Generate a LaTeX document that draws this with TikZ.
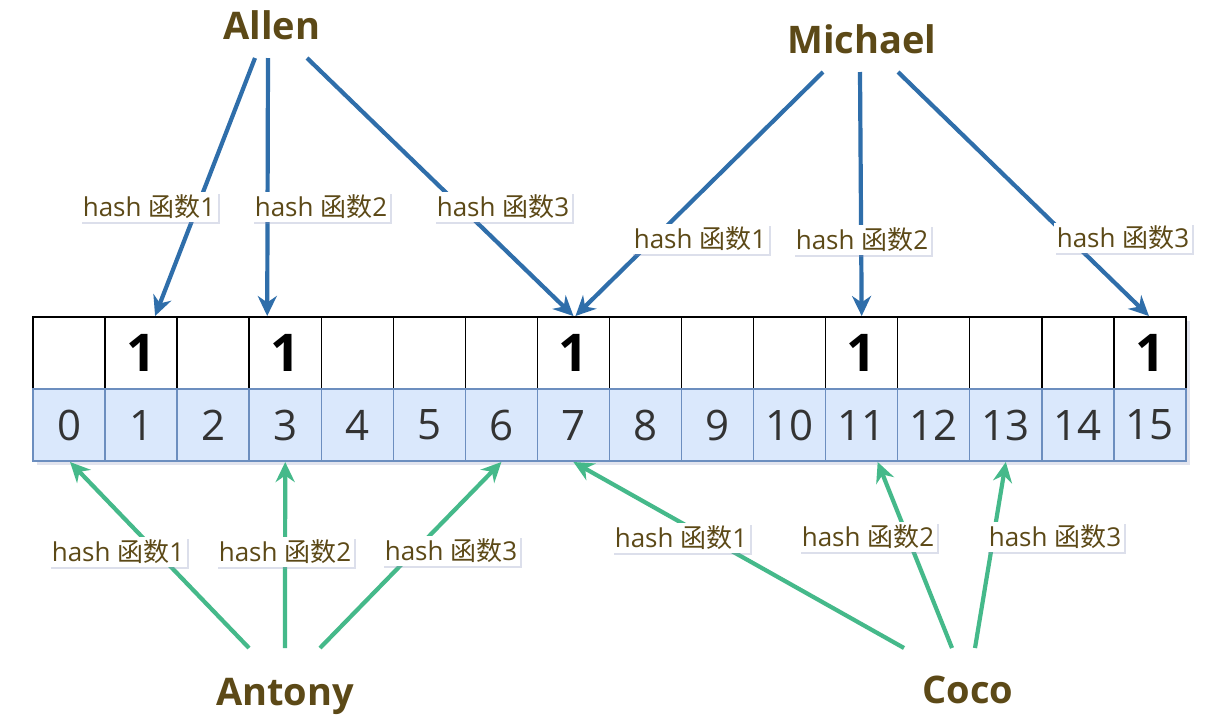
\documentclass[tikz,border=0pt]{standalone}
\usepackage{fontspec}
\setmainfont{Open Sans}
\newfontfamily\cjk{Noto Sans CJK SC}
\usetikzlibrary{arrows.meta,shadows}
\definecolor{namebrown}{HTML}{5C4917}
\definecolor{arrowblue}{HTML}{2F6EAA}
\definecolor{arrowgreen}{HTML}{45B98A}
\definecolor{cellfill}{HTML}{DAE8FC}
\definecolor{celldraw}{HTML}{6C8EBF}
\definecolor{numgray}{HTML}{333333}
\definecolor{shadowc}{HTML}{8E96BE}
\tikzset{
  topcell/.style={draw=black, line width=1.4pt, fill=white, minimum width=72.06pt, minimum height=72pt, inner sep=0pt, outer sep=0pt, font=\fontsize{52}{52}\selectfont\bfseries},
  botcell/.style={draw=celldraw, line width=1.4pt, fill=cellfill, minimum width=72.06pt, minimum height=72pt, inner sep=0pt, outer sep=0pt, text=numgray, font=\fontsize{42}{42}\selectfont},
  person/.style={text=namebrown, font=\fontsize{38}{38}\selectfont\bfseries, anchor=base, inner sep=0pt},
  hashlabel/.style={fill=white, text=namebrown, inner sep=2.5pt, font=\fontsize{26}{26}\selectfont, drop shadow={shadow xshift=2pt, shadow yshift=-2pt, opacity=.3, fill=shadowc}},
  bluearrow/.style={draw=arrowblue, line width=4.2pt, -{Stealth[length=20pt,width=19pt]}},
  greenarrow/.style={draw=arrowgreen, line width=4.2pt, -{Stealth[length=20pt,width=19pt]}}
}
\begin{document}
\begin{tikzpicture}[x=1pt,y=-1pt]
\useasboundingbox (0,0) rectangle (1215,721);
\fill[white] (0,0) rectangle (1215,721);
% grid shadow
\fill[shadowc, opacity=.25] (37,321) rectangle (1190,465);
% cells
\foreach \i in {0,2,4,5,6,8,9,10,12,13,14}
  \node[topcell] (t\i) at ({33+72.06*(\i+0.5)},353) {};
\foreach \i in {1,3,7,11,15}
  \node[topcell] (t\i) at ({33+72.06*(\i+0.5)},353) {1};
\foreach \i in {0,...,15}
  \node[botcell] (b\i) at ({33+72.06*(\i+0.5)},425) {\i};
% names
\node[person] (allen) at (272,39) {Allen};
\node[person] (michael) at (862,53) {Michael};
\node[person] (antony) at (285,705) {Antony};
\node[person] (coco) at (968,703) {Coco};
% free ends near names
\coordinate (al1) at (255,58);
\coordinate (al2) at (268,58);
\coordinate (al3) at (307,58);
\coordinate (mi1) at (823,72);
\coordinate (mi2) at (860,72);
\coordinate (mi3) at (898,72);
\coordinate (an1) at (249,648);
\coordinate (an2) at (285,648);
\coordinate (an3) at (320,648);
\coordinate (co1) at (904,648);
\coordinate (co2) at (952,648);
\coordinate (co3) at (975,648);
% blue arrows
\draw[bluearrow] (al1) -- ([xshift=14pt,yshift=1pt]t1.north);
\draw[bluearrow] (al2) -- ([xshift=-18pt,yshift=1pt]t3.north);
\draw[bluearrow] (al3) -- ([yshift=1pt]t7.north);
\draw[bluearrow] (mi1) -- ([xshift=2pt,yshift=1pt]t7.north);
\draw[bluearrow] (mi2) -- ([yshift=1pt]t11.north);
\draw[bluearrow] (mi3) -- ([xshift=-1pt,yshift=1pt]t15.north);
% green arrows
\draw[greenarrow] (an1) -- ([xshift=1pt,yshift=-1pt]b0.south);
\draw[greenarrow] (an2) -- ([yshift=-1pt]b3.south);
\draw[greenarrow] (an3) -- ([yshift=-1pt]b6.south);
\draw[greenarrow] (co1) -- ([yshift=-1pt]b7.south);
\draw[greenarrow] (co2) -- ([xshift=16pt,yshift=-1pt]b11.south);
\draw[greenarrow] (co3) -- ([yshift=-1pt]b13.south);
% labels
\node[hashlabel] (la1) at (149,207) {hash {\cjk 函数}1};
\node[hashlabel] (la2) at (321,207) {hash {\cjk 函数}2};
\node[hashlabel] (la3) at (503,207) {hash {\cjk 函数}3};
\node[hashlabel] (lm1) at (700,239) {hash {\cjk 函数}1};
\node[hashlabel] (lm2) at (862,240) {hash {\cjk 函数}2};
\node[hashlabel] (lm3) at (1123,238) {hash {\cjk 函数}3};
\node[hashlabel] (ln1) at (118,552) {hash {\cjk 函数}1};
\node[hashlabel] (ln2) at (285,552) {hash {\cjk 函数}2};
\node[hashlabel] (ln3) at (451,551) {hash {\cjk 函数}3};
\node[hashlabel] (lc1) at (681,538) {hash {\cjk 函数}1};
\node[hashlabel] (lc2) at (868,537) {hash {\cjk 函数}2};
\node[hashlabel] (lc3) at (1055,537) {hash {\cjk 函数}3};
\end{tikzpicture}
\end{document}
